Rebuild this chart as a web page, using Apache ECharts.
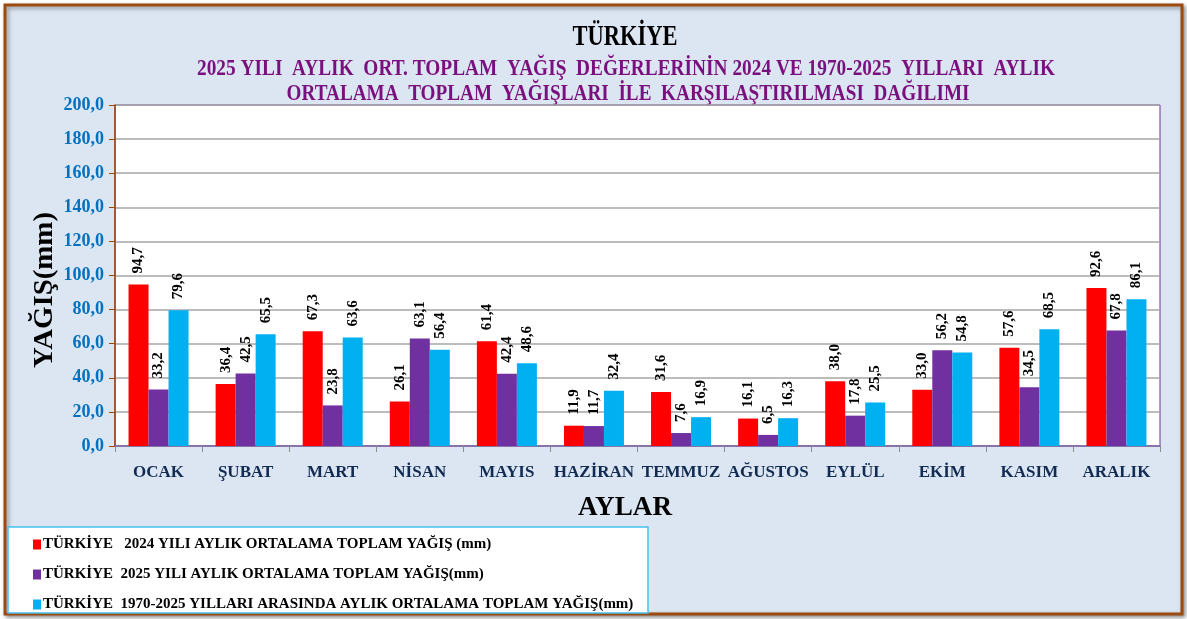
<!DOCTYPE html>
<html>
<head>
<meta charset="utf-8">
<script src="https://cdn.jsdelivr.net/npm/echarts@6/dist/echarts.min.js"></script>
<style>
html, body { margin: 0; padding: 0; background: #fff; }
#chart { width: 1187px; height: 619px; }
</style>
</head>
<body>
<div id="chart"></div>
<script>
const months = ['OCAK', 'ŞUBAT', 'MART', 'NİSAN', 'MAYIS', 'HAZİRAN', 'TEMMUZ', 'AĞUSTOS', 'EYLÜL', 'EKİM', 'KASIM', 'ARALIK']
const rain2024 = [94.7, 36.4, 67.3, 26.1, 61.4, 11.9, 31.6, 16.1, 38.0, 33.0, 57.6, 92.6]
const rain2025 = [33.2, 42.5, 23.8, 63.1, 42.4, 11.7, 7.6, 6.5, 17.8, 56.2, 34.5, 67.8]
const rainNormal = [79.6, 65.5, 63.6, 56.4, 48.6, 32.4, 16.9, 16.3, 25.5, 54.8, 68.5, 86.1]
const seriesNames = [
  'TÜRKİYE   2024 YILI AYLIK ORTALAMA TOPLAM YAĞIŞ (mm)',
  'TÜRKİYE  2025 YILI AYLIK ORTALAMA TOPLAM YAĞIŞ(mm)',
  'TÜRKİYE  1970-2025 YILLARI ARASINDA AYLIK ORTALAMA TOPLAM YAĞIŞ(mm)'
]
const seriesColors = ['#ff0000', '#7030a0', '#00b0f0']
const yTicks = { min: 0, max: 200, step: 20 }

const title1 = 'TÜRKİYE'
const title2 = '2025 YILI  AYLIK  ORT. TOPLAM  YAĞIŞ  DEĞERLERİNİN 2024 VE 1970-2025  YILLARI  AYLIK'
const title3 = 'ORTALAMA  TOPLAM  YAĞIŞLARI  İLE  KARŞILAŞTIRILMASI  DAĞILIMI'

const serif = '"Liberation Serif", "Times New Roman", serif'
const comma = v => v.toFixed(1).replace('.', ',')

// the original lettering is squeezed sideways, so scale text to its measured width
const measureCtx = document.createElement('canvas').getContext('2d')
function fitScale(text, size, target) {
  measureCtx.font = 'bold ' + size + 'px ' + serif
  return target / measureCtx.measureText(text).width
}

function squeezedText(text, x, y, size, width, color, rotation) {
  return {
    type: 'text',
    x: x,
    y: y,
    rotation: rotation || 0,
    scaleX: fitScale(text, size, width),
    style: {
      text: text,
      font: 'bold ' + size + 'px ' + serif,
      fill: color,
      align: 'center',
      verticalAlign: 'middle',
      textAlign: 'center',
      textVerticalAlign: 'middle'
    }
  }
}

const myChart = echarts.init(document.getElementById('chart'))

const series = [rain2024, rain2025, rainNormal].map((data, i) => ({
  name: seriesNames[i],
  type: 'bar',
  barWidth: 20,
  barGap: '0%',
  itemStyle: { color: seriesColors[i] },
  label: {
    show: true,
    position: 'top',
    rotate: 90,
    align: 'left',
    verticalAlign: 'middle',
    distance: 11,
    color: '#000',
    fontSize: 15,
    fontWeight: 'bold',
    fontFamily: serif,
    formatter: p => comma(p.value)
  },
  data: data
}))

myChart.setOption({
  animation: false,
  graphic: [
    {
      type: 'rect',
      z: -10,
      shape: { x: 5, y: 5, width: 1177, height: 609 },
      style: {
        fill: '#dce6f2',
        stroke: '#9c4a10',
        lineWidth: 3,
        shadowBlur: 4,
        shadowOffsetX: 2,
        shadowOffsetY: 2,
        shadowColor: 'rgba(0,0,0,0.4)'
      }
    },
    {
      type: 'rect',
      z: -5,
      shape: { x: 8, y: 527, width: 640, height: 86 },
      style: { fill: '#fff', stroke: '#44c1ee', lineWidth: 1.5 }
    },
    squeezedText(title1, 625, 37, 30, 105, '#000'),
    squeezedText(title2, 626, 69, 24, 858, '#7a0f7e'),
    squeezedText(title3, 628, 94, 24, 683, '#7a0f7e'),
    squeezedText('YAĞIŞ(mm)', 45, 290, 28, 156, '#000', Math.PI / 2),
    squeezedText('AYLAR', 625, 508, 27, 94, '#000')
  ],
  legend: {
    orient: 'vertical',
    left: 33,
    top: 537,
    padding: 0,
    icon: 'rect',
    itemWidth: 8,
    itemHeight: 10,
    itemGap: 15,
    textStyle: {
      color: '#000',
      fontSize: 15,
      fontWeight: 'bold',
      fontFamily: serif,
      padding: [0, 0, 0, -3]
    },
    data: seriesNames
  },
  grid: {
    left: 115,
    right: 27,
    top: 105,
    bottom: 173,
    show: true,
    backgroundColor: '#fff',
    borderColor: '#7030a0',
    borderWidth: 1
  },
  xAxis: {
    type: 'category',
    data: months,
    axisLine: { lineStyle: { color: '#8064a2', width: 1.5 } },
    axisTick: { show: true, length: 6, lineStyle: { color: '#8c8c8c' } },
    axisLabel: {
      interval: 0,
      color: '#112b52',
      fontSize: 17,
      fontWeight: 'bold',
      fontFamily: serif,
      margin: 18
    }
  },
  yAxis: {
    type: 'value',
    min: yTicks.min,
    max: yTicks.max,
    interval: yTicks.step,
    axisLine: { show: true, lineStyle: { color: '#984807', width: 1.5 } },
    axisTick: { show: true, length: 6, lineStyle: { color: '#984807' } },
    splitLine: { lineStyle: { color: '#a6a6a6', width: 1.5 } },
    axisLabel: {
      color: '#0070c0',
      fontSize: 18,
      fontWeight: 'bold',
      fontFamily: serif,
      margin: 11,
      formatter: v => comma(v)
    }
  },
  series: series
})
</script>
</body>
</html>
